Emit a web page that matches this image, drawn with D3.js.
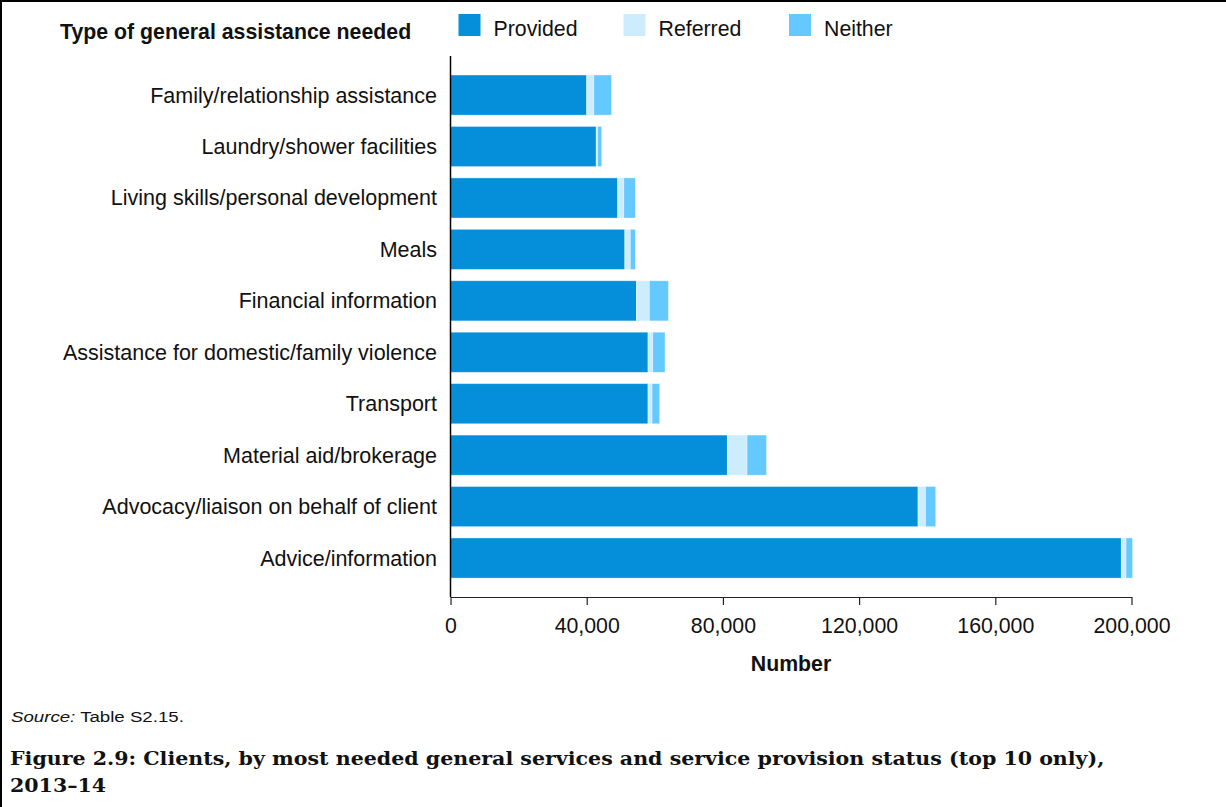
<!DOCTYPE html>
<html>
<head>
<meta charset="utf-8">
<script src="https://cdn.jsdelivr.net/npm/d3@7"></script>
<style>
  html, body { margin: 0; padding: 0; background: #fff; }
  svg { display: block; }
  .sans { font-family: "Liberation Sans", Arial, sans-serif; fill: #111; }
  .serif { font-family: "DejaVu Serif", "Liberation Serif", serif; fill: #111; }
</style>
</head>
<body>
<svg id="chart" width="1226" height="807"></svg>
<script>
// ---- data ----
const categories = [
  "Family/relationship assistance",
  "Laundry/shower facilities",
  "Living skills/personal development",
  "Meals",
  "Financial information",
  "Assistance for domestic/family violence",
  "Transport",
  "Material aid/brokerage",
  "Advocacy/liaison on behalf of client",
  "Advice/information"
];
const seriesNames = ["Provided", "Referred", "Neither"];
const provided = [40000, 42800, 49100, 51200, 54600, 58000, 58000, 81300, 137300, 197000];
const referred = [2100, 400, 1800, 1600, 3800, 1400, 1200, 5800, 2200, 1400];
const neither  = [5200, 1200, 3400, 1500, 5600, 3600, 2200, 5700, 3000, 1900];
const xTicks = [0, 40000, 80000, 120000, 160000, 200000];
const colors = ["#058fda", "#cdedff", "#63c9ff"];

const legendTitle = "Type of general assistance needed";
const xAxisTitle = "Number";
const sourceItalic = "Source:";
const sourceRest = " Table S2.15.";
const titleLines = [
  "Figure 2.9: Clients, by most needed general services and service provision status (top 10 only),",
  "2013\u201314"
];

// ---- build ----
const rows = categories.map((c, i) => ({
  category: c, Provided: provided[i], Referred: referred[i], Neither: neither[i]
}));
const stacked = d3.stack().keys(seriesNames)(rows);

const svg = d3.select("#chart");

// frame lines (top and left)
svg.append("rect").attr("x", 0).attr("y", 0).attr("width", 1226).attr("height", 2).attr("fill", "#000");
svg.append("rect").attr("x", 0).attr("y", 0).attr("width", 2).attr("height", 807).attr("fill", "#000");

const x = d3.scaleLinear().domain([0, 200000]).range([450.5, 1131.5]);
const y = d3.scaleBand().domain(categories).range([63.7, 589.4]).paddingInner(0.22).paddingOuter(0.22);

const color = d3.scaleOrdinal().domain(seriesNames).range(colors);

// bars
svg.append("g")
  .selectAll("g")
  .data(stacked)
  .join("g")
  .attr("fill", d => color(d.key))
  .selectAll("rect")
  .data(d => d)
  .join("rect")
  .attr("x", d => x(d[0]))
  .attr("y", d => y(d.data.category))
  .attr("width", d => Math.max(0, x(d[1]) - x(d[0])))
  .attr("height", y.bandwidth())
  .attr("stroke", "#ffffff")
  .attr("stroke-opacity", 0.45)
  .attr("stroke-width", 0.8);

// category labels
svg.append("g")
  .selectAll("text")
  .data(categories)
  .join("text")
  .attr("class", "sans")
  .attr("x", 437)
  .attr("y", d => y(d) + y.bandwidth() / 2)
  .attr("dy", "0.35em")
  .attr("text-anchor", "end")
  .style("font-size", "21.5px")
  .text(d => d);

// y axis line
svg.append("line")
  .attr("x1", x(0)).attr("x2", x(0))
  .attr("y1", 56).attr("y2", 597)
  .attr("stroke", "#000").attr("stroke-width", 1.5);

// x axis
const xAxis = d3.axisBottom(x).tickValues(xTicks).tickFormat(d3.format(",")).tickSize(8).tickSizeOuter(0);
const gx = svg.append("g").attr("transform", "translate(0,597)").call(xAxis);
gx.select(".domain").attr("stroke", "#222").attr("stroke-width", 1.2);
gx.selectAll(".tick line").attr("stroke", "#222").attr("stroke-width", 1.2);
gx.selectAll(".tick text")
  .attr("class", "sans")
  .style("font-size", "21.3px")
  .attr("y", 36)
  .attr("dy", 0);

svg.append("text")
  .attr("class", "sans")
  .attr("x", (x(0) + x(200000)) / 2)
  .attr("y", 671)
  .attr("text-anchor", "middle")
  .style("font-size", "21.3px")
  .style("font-weight", "bold")
  .text(xAxisTitle);

// legend
svg.append("text")
  .attr("class", "sans")
  .attr("x", 60).attr("y", 39)
  .style("font-size", "21.3px")
  .style("font-weight", "bold")
  .text(legendTitle);

const legendX = [458.5, 623.5, 789];
const lg = svg.append("g").selectAll("g").data(seriesNames).join("g")
  .attr("transform", (d, i) => `translate(${legendX[i]},14)`);
lg.append("rect").attr("width", 22).attr("height", 22).attr("fill", d => color(d));
lg.append("text").attr("class", "sans").attr("x", 35).attr("y", 22).style("font-size", "21.3px").text(d => d);

// source
const src = svg.append("text").attr("class", "sans").attr("x", 0).attr("y", 0).style("font-size", "15px");
src.append("tspan").style("font-style", "italic").text(sourceItalic);
src.append("tspan").text(sourceRest);
{
  const w = src.node().getComputedTextLength();
  const s = 173 / w;
  src.attr("transform", `translate(11,722) scale(${s},1)`);
}

// figure title
let titleScale = 1;
titleLines.forEach((t, i) => {
  const tt = svg.append("text")
    .attr("class", "serif")
    .attr("x", 0).attr("y", 0)
    .style("font-weight", "bold")
    .style("font-size", "18.5px")
    .text(t);
  if (i === 0) {
    const w = tt.node().getComputedTextLength();
    titleScale = 1095 / w;
  }
  tt.attr("transform", `translate(10,${i === 0 ? 765 : 792}) scale(${titleScale},1)`);
});
</script>
</body>
</html>
